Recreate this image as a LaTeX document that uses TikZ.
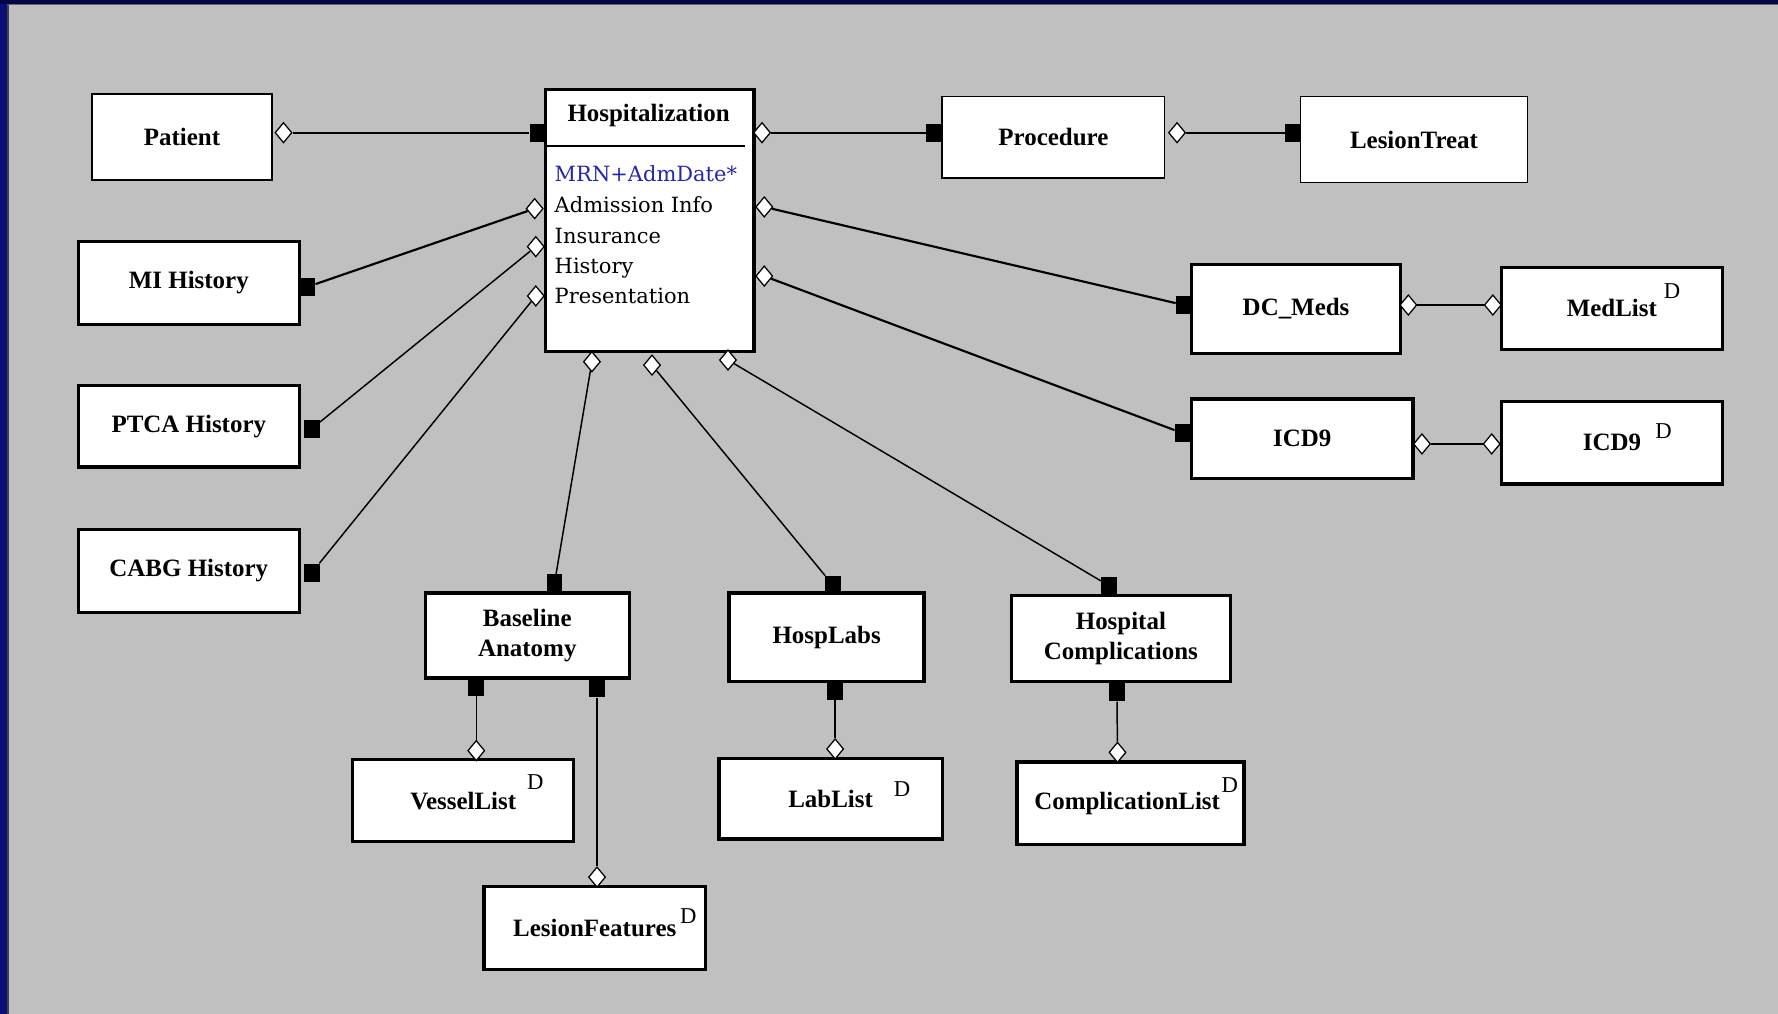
\documentclass[tikz,border=0pt]{standalone}
\usepackage{fontspec}
\setmainfont{Liberation Serif}
\newfontfamily\attrfont{DejaVu Serif}
\usetikzlibrary{shapes.geometric}
\definecolor{bggrey}{RGB}{192,192,192}
\definecolor{framenavy}{RGB}{10,16,118}
\definecolor{framedark}{RGB}{0,6,72}
\definecolor{keyblue}{RGB}{40,40,165}
\tikzset{
  ent/.style={draw=black, fill=white, rectangle, inner sep=0pt, align=center,
    font=\fontsize{22}{26.5}\selectfont\bfseries},
  thinent/.style={ent, line width=1.5pt},
  thickent/.style={ent, line width=3pt},
  sq/.style={fill=black, draw=none, rectangle, minimum width=14pt, minimum height=16pt, inner sep=0pt},
  dia/.style={diamond, draw=black, fill=white, line width=1.1pt, minimum width=15pt, minimum height=18pt, inner sep=0pt},
  link/.style={line width=1.3pt},
  boldlink/.style={line width=1.9pt},
  dmark/.style={font=\fontsize{20}{20}\selectfont, inner sep=0pt},
  attr/.style={anchor=base west, inner sep=0pt, font=\attrfont\fontsize{18.5}{20}\selectfont},
}
\begin{document}
\begin{tikzpicture}[x=1pt,y=-1pt]
\useasboundingbox (0,0) rectangle (1568,894);
% background and frame
\fill[bggrey] (0,0) rectangle (1568,894);
\fill[framenavy] (0,0) rectangle (6.5,894);
\fill[black!75] (6.5,4) rectangle (7.5,894);
\fill[framedark] (0,0) rectangle (1568,3.5);
\fill[black!60] (6.5,3.5) rectangle (1568,4.6);

% entities
\node[thinent, minimum width=159pt, minimum height=76pt] (patient) at (160.5,121) {Patient};
\node[thickent, minimum width=184pt, minimum height=231pt] (hosp) at (573,194.5) {};
\node[font=\fontsize{22}{26}\selectfont\bfseries, inner sep=0pt] (hosptitle) at (572,102) {Hospitalization};
\coordinate (sepL) at (482,128.5);
\coordinate (sepR) at (657,128.5);
\draw[line width=1.5pt] (sepL) -- (sepR);
\node[attr, text=keyblue] (a0) at (489,160) {MRN+AdmDate*};
\node[attr] (a1) at (489,187.5) {Admission Info};
\node[attr] (a2) at (489,214.5) {Insurance};
\node[attr] (a3) at (489,241) {History};
\node[attr] (a4) at (489,267.5) {Presentation};

\node[thinent, minimum width=196pt, minimum height=72pt] (proc) at (929,121) {Procedure};
\node[thinent, minimum width=200pt, minimum height=76pt] (lesiontreat) at (1247,123) {LesionTreat};

\node[thickent, minimum width=195pt, minimum height=73pt] (mi) at (166.5,249.5) {MI History};
\node[thickent, minimum width=195pt, minimum height=72pt] (ptca) at (166.5,376) {PTCA History};
\node[thickent, minimum width=195pt, minimum height=73pt] (cabg) at (166.5,503.5) {CABG History};

\node[thickent, minimum width=184pt, minimum height=79pt] (dcmeds) at (1143,272.5) {DC\_Meds};
\node[thickent, minimum width=195pt, minimum height=72pt] (medlist) at (1421.5,272) {MedList};
\node[thickent, minimum width=195pt, minimum height=70pt] (icda) at (1148.5,387) {ICD9};
\node[thickent, minimum width=195pt, minimum height=73pt] (icdb) at (1421.5,390.5) {ICD9};

\node[thickent, minimum width=180pt, minimum height=75pt] (baseline) at (465,560.5) {Baseline\\Anatomy};
\node[thickent, minimum width=172pt, minimum height=78pt] (hosplabs) at (729,562) {HospLabs};
\node[thickent, minimum width=193pt, minimum height=76pt] (hospcomp) at (988.5,563) {Hospital\\Complications};

\node[thickent, minimum width=195pt, minimum height=72pt] (vessel) at (408.5,706) {VesselList};
\node[thickent, minimum width=197pt, minimum height=71pt] (lablist) at (732.5,704.5) {LabList};
\node[thickent, minimum width=200pt, minimum height=73pt] (complist) at (997,708.5) {};
\node[font=\fontsize{22}{26.5}\selectfont\bfseries, inner sep=0pt] (complisttext) at (994,708.5) {ComplicationList};
\node[thickent, minimum width=195pt, minimum height=73pt] (lesionfeat) at (524.5,818.5) {LesionFeatures};

% D marks
\node[dmark] (dm1) at (1474.5,257) {D};
\node[dmark] (dm2) at (1467,380.5) {D};
\node[dmark] (dm3) at (472,689.5) {D};
\node[dmark] (dm4) at (795.5,696) {D};
\node[dmark] (dm5) at (1084.5,692) {D};
\node[dmark] (dm6) at (607,808) {D};

% connector ends
\node[dia] (dPat) at (250,117) {};
\node[sq] (sHospL) at (474,117) {};
\node[dia] (dHospR) at (672,117) {};
\node[sq] (sProc) at (824,117) {};
\node[dia] (dProc) at (1038,117) {};
\node[sq] (sLT) at (1140,117) {};

\node[dia] (dA1) at (471.5,184) {};
\node[sq] (sMI) at (271,253) {};
\node[dia] (dA2) at (472.5,217.5) {};
\node[sq] (sPTCA) at (275,378) {};
\node[dia] (dA3) at (472.5,261) {};
\node[sq] (sCABG) at (275,505) {};

\node[dia] (dR1) at (674,182.5) {};
\node[sq] (sDC) at (1044,269) {};
\node[dia] (dR2) at (674,243.5) {};
\node[sq] (sICDa) at (1043,382) {};

\node[dia] (dB1) at (522,319) {};
\node[sq] (sBase) at (489,514.5) {};
\node[dia] (dB2) at (575,322) {};
\node[sq] (sLabs) at (734.5,516) {};
\node[dia] (dB3) at (642,317.5) {};
\node[sq] (sComp) at (978,516.5) {};

\node[sq] (sBaseL) at (420,605.5) {};
\node[dia] (dVessel) at (420,662) {};
\node[sq] (sBaseR) at (526.5,607) {};
\node[dia] (dLesF) at (526.5,773.5) {};
\node[sq] (sLabsB) at (736.5,609) {};
\node[dia] (dLabList) at (736.5,660.5) {};
\node[sq] (sCompB) at (985,610.5) {};
\node[dia] (dCompList) at (985.5,663.5) {};

\node[dia] (dDCR) at (1242,269) {};
\node[dia] (dMedL) at (1316.5,269) {};
\node[dia] (dICDR) at (1254,391.5) {};
\node[dia] (dICDbL) at (1315.5,391.5) {};

% connectors
\draw[boldlink] (dPat) -- (sHospL);
\draw[boldlink] (dHospR) -- (sProc);
\draw[boldlink] (dProc) -- (sLT);
\draw[boldlink] (dA1) -- (sMI);
\draw[link] (dA2) -- (sPTCA);
\draw[link] (dA3) -- (sCABG);
\draw[boldlink] (dR1) -- (sDC);
\draw[boldlink] (dR2) -- (sICDa);
\draw[link] (dB1) -- (sBase);
\draw[link] (dB2) -- (sLabs);
\draw[link] (dB3) -- (sComp);
\draw[link] (sBaseL) -- (dVessel);
\draw[link] (sBaseR) -- (dLesF);
\draw[link] (sLabsB) -- (dLabList);
\draw[link] (sCompB) -- (dCompList);
\draw[boldlink] (dDCR) -- (dMedL);
\draw[boldlink] (dICDR) -- (dICDbL);
\end{tikzpicture}
\end{document}
